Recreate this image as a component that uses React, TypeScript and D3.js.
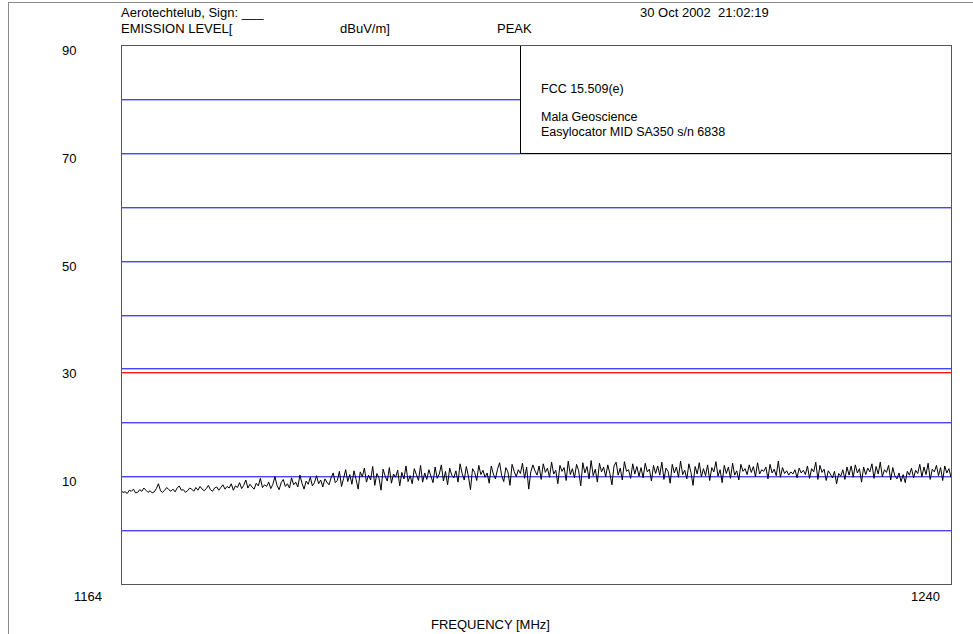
import React from 'react';
import { scaleLinear, line } from 'd3';

// y axis labels and grid levels (dBuV/m)
const yTickLabels = [90, 70, 50, 30, 10];
const gridFull = [60, 50, 40, 30, 20, 10, 0];
const gridLeft = [80, 70]; // cut by the info box
const limitLevel = 29.3; // FCC 15.509(e) limit line

const freqStart = 1164;
const freqStop = 1240;

const headerLines = ['Aerotechtelub, Sign: ___', 'EMISSION LEVEL['];
const infoLines = ['FCC 15.509(e)', 'Mala Geoscience', 'Easylocator MID SA350 s/n 6838'];

// peak trace (sweep points evenly spaced over 1164-1240 MHz)
const trace1 = [
  7.3, 7.0, 7.1, 6.8, 7.4, 7.2, 7.6, 6.9, 7.0, 7.5,
  7.2, 7.8, 7.4, 7.0, 7.3, 6.9, 7.1, 7.7, 8.6, 7.3,
  7.0, 7.4, 7.9, 7.5, 7.2, 7.6, 7.1, 7.8, 8.2, 7.4,
  7.5, 7.0, 7.3, 7.8, 7.6, 7.2, 7.9, 7.4, 8.1, 7.6,
  7.3, 7.7, 8.3, 7.5, 7.2, 7.8, 8.0, 7.4, 7.9, 8.4,
];
const trace2 = [
  7.6, 8.1, 7.8, 8.6, 7.4, 8.2, 7.9, 8.8, 7.7, 8.3,
  9.3, 7.8, 8.5, 8.0, 7.6, 8.7, 8.2, 9.6, 7.9, 8.4,
  8.1, 8.9, 7.7, 8.5, 9.9, 8.3, 7.5, 8.8, 9.4, 8.1,
  8.6, 7.8, 9.7, 8.4, 8.9, 8.0, 10.2, 8.7, 7.6, 9.1,
  8.5, 9.8, 8.2, 8.8, 10.1, 8.6, 9.3, 8.0, 9.5, 8.9,
];
const trace3 = [
  8.4, 9.7, 10.6, 8.8, 9.2, 10.9, 8.1, 9.6, 11.2, 9.0,
  10.3, 8.5, 11.0, 9.4, 7.6, 10.8, 9.9, 11.5, 8.9, 10.2,
  9.3, 11.8, 8.3, 10.5, 9.7, 7.4, 11.3, 10.0, 9.1, 11.6,
  8.7, 10.4, 9.8, 11.1, 8.2, 10.7, 9.5, 11.9, 9.0, 10.1,
  8.6, 11.4, 10.3, 9.2, 12.0, 8.9, 10.6, 9.4, 11.2, 10.0,
];
const trace4 = [
  8.8, 11.7, 9.6, 10.4, 12.1, 9.1, 10.9, 8.4, 11.5, 10.2,
  9.7, 11.0, 8.9, 12.3, 10.5, 9.3, 11.8, 10.0, 7.5, 11.4,
  10.7, 9.2, 12.0, 10.3, 11.1, 9.8, 10.6, 8.7, 11.9, 10.4,
  9.5, 11.3, 12.5, 10.1, 9.0, 11.6, 10.8, 8.3, 12.2, 10.9,
  9.9, 11.2, 10.5, 12.4, 9.6, 11.7, 7.6, 10.8, 12.1, 11.0,
];
const trace5 = [
  10.2, 11.9, 9.4, 12.3, 10.7, 11.5, 9.8, 12.6, 10.4, 11.1,
  8.6, 12.0, 10.9, 11.6, 9.2, 12.8, 10.3, 11.4, 9.7, 12.2,
  11.0, 8.2, 12.5, 10.6, 11.8, 9.5, 12.9, 10.1, 11.3, 8.9,
  12.4, 10.8, 11.7, 9.9, 12.1, 10.5, 8.4, 11.9, 12.6, 10.2,
  11.5, 9.3, 12.7, 10.9, 11.2, 9.6, 12.3, 10.4, 11.8, 10.0,
];
const trace6 = [
  11.6, 9.7, 12.4, 10.8, 11.3, 9.1, 12.0, 10.5, 11.9, 10.2,
  12.6, 9.4, 11.5, 10.9, 8.7, 12.2, 10.6, 11.7, 9.8, 12.8,
  10.3, 11.1, 9.5, 12.3, 10.7, 8.3, 11.8, 10.4, 12.5, 9.9,
  11.4, 10.1, 12.1, 9.2, 11.6, 10.8, 12.7, 10.0, 11.2, 8.8,
  12.0, 10.5, 11.7, 9.6, 12.4, 10.2, 11.0, 9.3, 12.2, 10.9,
];
const trace7 = [
  11.4, 10.3, 12.1, 10.7, 11.8, 9.9, 12.5, 10.4, 11.2, 10.9,
  11.7, 9.5, 12.2, 10.6, 11.3, 10.1, 12.8, 9.8, 11.6, 10.5,
  11.0, 10.2, 10.8, 10.4, 11.2, 9.7, 11.5, 10.6, 11.1, 10.3,
  11.9, 9.6, 11.4, 10.8, 12.6, 9.4, 12.0, 10.7, 11.3, 9.2,
  11.0, 10.4, 9.7, 10.9, 8.6, 10.5, 10.0, 11.2, 9.4, 11.7,
];
const trace8 = [
  10.2, 11.9, 9.8, 12.1, 10.6, 11.4, 8.9, 11.7, 10.3, 11.5,
  10.8, 12.3, 9.6, 11.8, 10.4, 12.6, 9.9, 11.2, 10.7, 12.0,
  9.3, 11.6, 10.1, 9.5, 10.6, 9.0, 10.3, 8.8, 10.9, 10.2,
  11.5, 9.7, 11.1, 10.5, 12.2, 9.9, 11.7, 10.3, 12.4, 9.4,
  11.3, 10.8, 12.0, 10.1, 11.6, 9.2, 11.9, 10.6, 11.4, 9.8,
];
const peakTrace = [...trace1, ...trace2, ...trace3, ...trace4, ...trace5, ...trace6, ...trace7, ...trace8];

const W = 973;
const H = 634;
const plot = { left: 121, right: 951, top: 45, bottom: 584 };
const boxX = 520;
const FONT = '"Liberation Sans", Arial, sans-serif';
const BLUE = '#4646ff';

export default function App() {
  const x = scaleLinear().domain([freqStart, freqStop]).range([plot.left, plot.right]);
  const y = scaleLinear().domain([-10, 90]).range([plot.bottom, plot.top]);
  const step = (freqStop - freqStart) / (peakTrace.length - 1);
  const py = (v: number) => Math.round(y(v));

  const tracePath = line<number>()
    .x((_, i) => x(freqStart + i * step))
    .y(d => y(d))(peakTrace);

  return (
    <div style={{ position: 'absolute', left: 0, top: 0 }}>
      <svg width={W} height={H} style={{ display: 'block', fontFamily: FONT }}>
        <rect width={W} height={H} fill="#fff" />
        {/* page frame */}
        <rect x={8} y={2} width={W - 8} height={1} fill="#8a8a8a" />
        <rect x={8} y={2} width={1} height={H - 2} fill="#8a8a8a" />

        {/* header */}
        <g fontSize={13} fill="#000">
          <text x={121} y={17}>{headerLines[0]}</text>
          <text x={121} y={33}>{headerLines[1]}</text>
          <text x={340} y={33}>dBuV/m]</text>
          <text x={497} y={33}>PEAK</text>
          <text x={640} y={17}>30 Oct 2002&#160;&#160;21:02:19</text>
        </g>

        {/* grid, drawn as 1px filled bands so the colour stays pure */}
        <g fill={BLUE}>
          {gridFull.map(v => (
            <rect key={'f' + v} x={plot.left} y={py(v)} width={plot.right - plot.left} height={1.4} />
          ))}
          {gridLeft.map(v => (
            <rect key={'l' + v} x={plot.left} y={py(v)} width={boxX - plot.left} height={1.4} />
          ))}
        </g>
        <rect x={plot.left} y={py(limitLevel)} width={plot.right - plot.left} height={1.4} fill="#ff1a1a" />

        {/* info box */}
        <rect x={boxX} y={plot.top} width={1} height={py(70) - plot.top + 1} fill="#000" />
        <rect x={boxX} y={py(70)} width={plot.right - boxX} height={1.2} fill="#000" />
        <g fontSize={12.5} fill="#000">
          <text x={541} y={93}>{infoLines[0]}</text>
          <text x={541} y={121}>{infoLines[1]}</text>
          <text x={541} y={136}>{infoLines[2]}</text>
        </g>

        {/* trace */}
        <path d={tracePath ?? ''} fill="none" stroke="#000" strokeWidth={1} />

        {/* frame */}
        <rect x={plot.left + 0.5} y={plot.top + 0.5} width={plot.right - plot.left} height={plot.bottom - plot.top} fill="none" stroke="#555" />

        {/* labels */}
        <g fontSize={13} fill="#000">
          {yTickLabels.map(v => (
            <text key={v} x={62} y={y(v) + 10}>{v}</text>
          ))}
          <text x={x(freqStart) - 19} y={601} textAnchor="end">{freqStart}</text>
          <text x={x(freqStop) - 11} y={601} textAnchor="end">{freqStop}</text>
          <text x={431} y={629}>FREQUENCY [MHz]</text>
        </g>
      </svg>
    </div>
  );
}
